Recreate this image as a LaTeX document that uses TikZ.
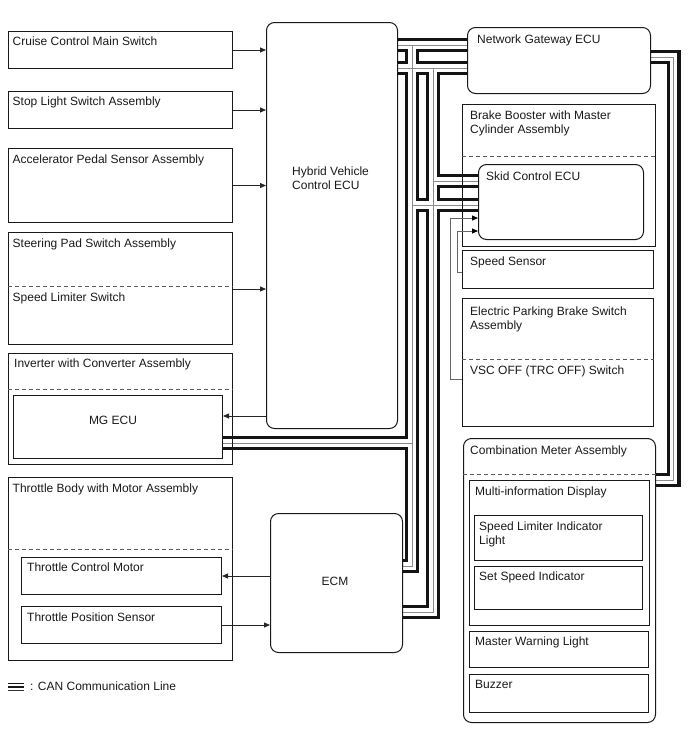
\documentclass[tikz,border=0pt]{standalone}
\usepackage{fontspec}
\setmainfont{Liberation Sans}
\usetikzlibrary{arrows.meta,calc,backgrounds}
\begin{document}
\begin{tikzpicture}[x=1pt,y=-1pt,
  font=\fontsize{12}{14}\selectfont,
  bx/.style={draw=black!90, line width=1pt, inner sep=0pt, anchor=north west},
  rbx/.style={bx, rounded corners=8pt},
  lbl/.style={inner sep=0pt, anchor=base west, text=black!90},
  clbl/.style={inner sep=0pt, anchor=base, text=black!90},
  dsh/.style={draw=black!65, line width=0.8pt, dash pattern=on 4pt off 3pt},
  sig/.style={draw=black!85, line width=0.8pt, -{Triangle[length=6pt,width=5pt]}},
  sigg/.style={draw=black!60, line width=0.8pt, -{Triangle[length=6pt,width=5pt,black]}},
  canA/.style={line width=14pt, draw=black!92},
  canB/.style={line width=7.5pt, draw=white},
  canC/.style={line width=1pt, draw=black!45},
]
\useasboundingbox (0,0) rectangle (688,755);

% ---------- left column ----------
\node[bx, minimum width=224pt, minimum height=37pt] (cruise) at (8,31) {};
\node[lbl] (tcruise) at (12.5,45.5) {Cruise Control Main Switch};
\node[bx, minimum width=224pt, minimum height=37pt] (stop) at (8,91) {};
\node[lbl] (tstop) at (12.5,105.5) {Stop Light Switch Assembly};
\node[bx, minimum width=224pt, minimum height=74pt] (accel) at (8,148) {};
\node[lbl] (taccel) at (12.5,163) {Accelerator Pedal Sensor Assembly};
\node[bx, minimum width=224pt, minimum height=112pt] (steer) at (8,232) {};
\node[lbl] (tsteer) at (12.5,247) {Steering Pad Switch Assembly};
\node[lbl] (tlim) at (12.5,301) {Speed Limiter Switch};
\draw[dsh] ($(steer.north west)+(0,54)$) -- ($(steer.north east)+(0,54)$);
\node[bx, minimum width=224pt, minimum height=111pt] (inv) at (8,353) {};
\node[lbl] (tinv) at (14,367) {Inverter with Converter Assembly};
\draw[dsh] ($(inv.north west)+(0,36)$) -- ($(inv.north east)+(0,36)$);
\node[bx, minimum width=209pt, minimum height=63pt] (mg) at (13,395) {};
\node[clbl] (tmg) at (113,424) {MG ECU};
\node[bx, minimum width=224pt, minimum height=183pt] (thr) at (8,477) {};
\node[lbl] (tthr) at (12.5,492) {Throttle Body with Motor Assembly};
\draw[dsh] ($(thr.north west)+(0,72)$) -- ($(thr.north east)+(0,72)$);
\node[bx, minimum width=200pt, minimum height=37pt] (tcm) at (21,557) {};
\node[lbl] (ttcm) at (27,571) {Throttle Control Motor};
\node[bx, minimum width=200pt, minimum height=37pt] (tps) at (21,606) {};
\node[lbl] (ttps) at (27,621) {Throttle Position Sensor};

% ---------- centre ----------
\node[rbx, minimum width=131pt, minimum height=406pt] (hv) at (266,22) {};
\node[lbl] (thv1) at (292,175) {Hybrid Vehicle};
\node[lbl] (thv2) at (292,189) {Control ECU};
\node[rbx, minimum width=132pt, minimum height=139pt] (ecm) at (270,513) {};
\node[clbl] (tecm) at (335,585) {ECM};

% ---------- right column ----------
\node[rbx, minimum width=183pt, minimum height=66pt] (gw) at (467,27) {};
\node[lbl] (tgw) at (477,43) {Network Gateway ECU};
\node[bx, minimum width=193pt, minimum height=142pt] (bb) at (462,104) {};
\node[lbl] (tbb1) at (470,119) {Brake Booster with Master};
\node[lbl] (tbb2) at (470,133) {Cylinder Assembly};
\draw[dsh] ($(bb.north west)+(0,52)$) -- ($(bb.north east)+(0,52)$);
\node[rbx, minimum width=165pt, minimum height=75pt] (skid) at (478,164) {};
\node[lbl] (tskid) at (486,180) {Skid Control ECU};
\node[bx, minimum width=191pt, minimum height=38pt] (ss) at (462,250) {};
\node[lbl] (tss) at (470,265) {Speed Sensor};
\node[bx, minimum width=191pt, minimum height=128pt] (epb) at (462,298) {};
\node[lbl] (tepb1) at (470,315) {Electric Parking Brake Switch};
\node[lbl] (tepb2) at (470,329) {Assembly};
\draw[dsh] ($(epb.north west)+(0,61)$) -- ($(epb.north east)+(0,61)$);
\node[lbl] (tvsc) at (470,374) {VSC OFF (TRC OFF) Switch};
\node[rbx, minimum width=192pt, minimum height=284pt] (comb) at (463,438) {};
\node[lbl] (tcomb) at (470,454) {Combination Meter Assembly};
\draw[dsh] ($(comb.north west)+(0,36)$) -- ($(comb.north east)+(0,36)$);
\node[bx, minimum width=180pt, minimum height=145pt] (mid) at (469,480) {};
\node[lbl] (tmid) at (475,495) {Multi-information Display};
\node[bx, minimum width=168pt, minimum height=45pt] (sli) at (474,515) {};
\node[lbl] (tsli1) at (479,530) {Speed Limiter Indicator};
\node[lbl] (tsli2) at (479,544) {Light};
\node[bx, minimum width=168pt, minimum height=43pt] (ssi) at (474,566) {};
\node[lbl] (tssi) at (479,580) {Set Speed Indicator};
\node[bx, minimum width=179pt, minimum height=36pt] (mwl) at (469,631) {};
\node[lbl] (tmwl) at (475,645) {Master Warning Light};
\node[bx, minimum width=179pt, minimum height=38pt] (buz) at (469,674) {};
\node[lbl] (tbuz) at (475,688) {Buzzer};

% ---------- signal lines ----------
\draw[sig] (cruise.east) -- (hv.west |- cruise.east);
\draw[sig] (stop.east) -- (hv.west |- stop.east);
\draw[sig] (accel.east) -- (hv.west |- accel.east);
\coordinate (plim) at ($(steer.north east)+(0,57)$);
\draw[sig] (plim) -- (hv.west |- plim);
\coordinate (pmg) at ($(hv.north west)+(0,394)$);
\draw[sig] (pmg) -- (mg.east |- pmg);
\draw[sig] (ecm.west |- tcm.east) -- (tcm.east);
\draw[sig] (tps.east) -- (ecm.west |- tps.east);
\coordinate (pss) at ($(ss.north west)+(0,22)$);
\coordinate (yss) at (0,231);
\draw[sigg] (pss) -- ++(-5,0) |- (skid.west |- yss);
\coordinate (pvsc) at ($(epb.north west)+(0,81)$);
\coordinate (yvsc) at (0,218);
\draw[sigg] (pvsc) -- ++(-12,0) |- (skid.west |- yvsc);

% ---------- CAN lines ----------
\coordinate (yA) at (0,45);
\coordinate (yC) at (0,68);
\coordinate (yE) at (0,566);
\coordinate (yF) at (0,612);
\coordinate (yM) at (0,443);
\coordinate (yS1) at (0,181);
\coordinate (yS2) at (0,205);
\coordinate (yG) at (0,57);
\coordinate (yH) at (0,480);
\coordinate (xi) at (412,0);
\coordinate (xo) at (433,0);
\coordinate (xr) at (673.5,0);
\newcommand{\canroutes}[1]{%
  \draw[#1] (hv.east |- yA) -- (gw.west |- yA);
  \draw[#1] (xi |- yA) -- (xi |- yE) -- (ecm.east |- yE);
  \draw[#1] (mg.east |- yM) -- (xi |- yM);
  \draw[#1] (xi |- yS2) -- (skid.west |- yS2);
  \draw[#1] (hv.east |- yC) -- (gw.west |- yC);
  \draw[#1] (xo |- yC) -- (xo |- yF) -- (ecm.east |- yF);
  \draw[#1] (xo |- yS1) -- (skid.west |- yS1);
  \draw[#1] (gw.east |- yG) -- (xr |- yG) -- (xr |- yH) -- (comb.east |- yH);
}
\begin{pgfonlayer}{background}
\canroutes{canA}
\canroutes{canB}
\canroutes{canC}
\end{pgfonlayer}

% ---------- legend ----------
\coordinate (lg1) at (8,683.5);
\coordinate (lg2) at (24,683.5);
\draw[line width=1.8pt, black!90] (lg1) -- (lg2);
\draw[line width=1.8pt, black!90] ($(lg1)+(0,3.5)$) -- ($(lg2)+(0,3.5)$);
\draw[line width=1.8pt, black!80] ($(lg1)+(0,7)$) -- ($(lg2)+(0,7)$);
\node[lbl] (tleg) at (30,690) {: CAN Communication Line};
\end{tikzpicture}
\end{document}
